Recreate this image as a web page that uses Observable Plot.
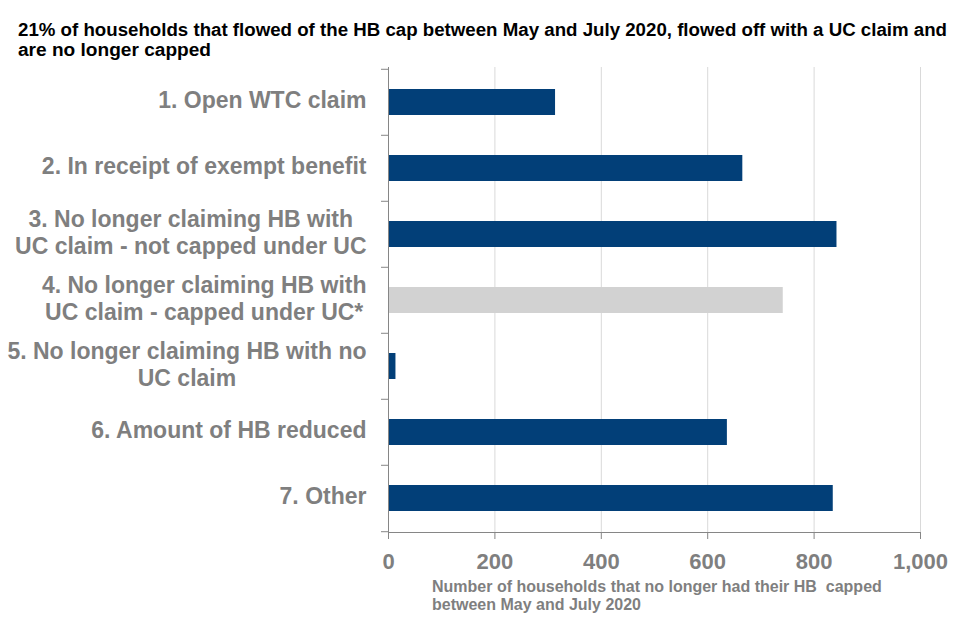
<!DOCTYPE html>
<html>
<head>
<meta charset="utf-8">
<script src="https://cdn.jsdelivr.net/npm/d3@7"></script>
<script src="https://cdn.jsdelivr.net/npm/@observablehq/plot@0.6"></script>
<style>
  html, body { margin: 0; padding: 0; background: #fff; }
  body { width: 960px; height: 640px; overflow: hidden; font-family: "Liberation Sans", Arial, sans-serif; }
  #title { height: 62px; box-sizing: border-box; padding: 20px 0 0 18px; font-weight: bold; font-size: 18px; line-height: 20px; color: #000; }
  #title .line { display: block; white-space: nowrap; transform-origin: 0 0; width: max-content; }
  #caption { margin-top: 1px; padding-left: 432px; font-weight: bold; font-size: 16px; line-height: 18px; color: #7f7f7f; white-space: pre; }
</style>
</head>
<body>
<div id="title"></div>
<div id="chart"></div>
<div id="caption"></div>
<script>
const titleLines = [
  "21% of households that flowed of the HB cap between May and July 2020, flowed off with a UC claim and",
  "are no longer capped"
];
const categories = [
  "1. Open WTC claim",
  "2. In receipt of exempt benefit",
  "3. No longer claiming HB with\nUC claim - not capped under UC",
  "4. No longer claiming HB with\nUC claim - capped under UC*",
  "5. No longer claiming HB with no\nUC claim",
  "6. Amount of HB reduced",
  "7. Other"
];
const values = [314, 666, 843, 742, 14, 637, 836];
const cappedUnderUC = [false, false, false, true, false, false, false];
const xTicks = [0, 200, 400, 600, 800, 1000];
const xLabel = "Number of households that no longer had their HB  capped\nbetween May and July 2020";

const data = categories.map((c, i) => ({category: c, value: values[i], capped: cappedUnderUC[i]}));

// Title (condensed to match the original width)
const titleEl = document.getElementById("title");
const titleWidths = [929, 193];
titleLines.forEach((t, i) => {
  const s = document.createElement("span");
  s.className = "line";
  s.textContent = t;
  titleEl.appendChild(s);
  const w = s.getBoundingClientRect().width;
  s.style.transform = `scaleX(${titleWidths[i] / w})`;
});

const W = 960, H = 515, mT = 5, mB = 45, mL = 388, mR = 40;
const step = (H - mT - mB) / categories.length;
const axisGrey = "#868686";
const textGrey = "#7f7f7f";

const chart = Plot.plot({
  width: W,
  height: H,
  marginTop: mT,
  marginBottom: mB,
  marginLeft: mL,
  marginRight: mR,
  style: {fontFamily: "'Liberation Sans', Arial, sans-serif", background: "#fff"},
  x: {domain: [0, 1000], ticks: xTicks},
  y: {domain: categories, paddingInner: 0.61, paddingOuter: 0.305},
  marks: [
    Plot.gridX(xTicks, {stroke: "#d9d9d9", strokeOpacity: 1}),
    Plot.barX(data, {x: "value", y: "category", fill: d => d.capped ? "#d2d2d2" : "#023f78"}),
    Plot.ruleX([0], {stroke: axisGrey}),
    Plot.frame({anchor: "bottom", stroke: axisGrey}),
    Plot.axisX({ticks: xTicks, tickSize: 7, tickPadding: 14, stroke: axisGrey, fill: textGrey,
                fontSize: 22, fontWeight: "bold", tickFormat: d3.format(","), label: null}),
    Plot.axisY({tickSize: 0, tickPadding: 22, fill: textGrey, fontSize: 23, fontWeight: "bold",
                lineHeight: 1.17, dy: -3, label: null}),
    Plot.axisY({tickSize: 7, text: null, stroke: axisGrey, dy: -step / 2, label: null}),
    Plot.axisY({ticks: [categories[categories.length - 1]], tickSize: 7, text: null, stroke: axisGrey, dy: step / 2, label: null})
  ]
});
document.getElementById("chart").appendChild(chart);

// Center multi-line labels within their block, block right-aligned
chart.querySelectorAll('g[aria-label="y-axis tick label"] text').forEach(t => {
  const spans = t.querySelectorAll("tspan");
  if (spans.length < 2) return;
  let maxW = 0;
  spans.forEach(s => { maxW = Math.max(maxW, s.getComputedTextLength()); });
  t.setAttribute("text-anchor", "middle");
  spans.forEach(s => s.setAttribute("x", -maxW / 2));
});

document.getElementById("caption").textContent = xLabel;
</script>
</body>
</html>
